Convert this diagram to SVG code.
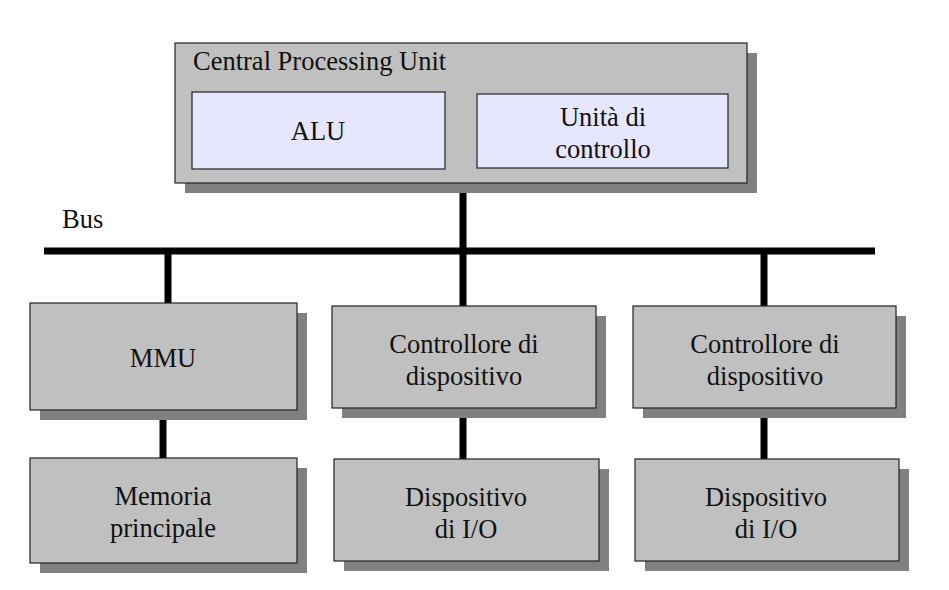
<svg xmlns="http://www.w3.org/2000/svg" width="949" height="590" viewBox="0 0 949 590">
<style>
.sh{fill:#808080}
.bx{fill:#c0c0c0;stroke:#222;stroke-width:1.2}
.in{fill:#e6e6ff;stroke:#222;stroke-width:1.2}
.t{font-family:"Liberation Serif","Times New Roman",serif;font-size:26.5px;fill:#111;text-anchor:middle}
.c{stroke:#000;stroke-width:7;fill:none}
</style>
<rect width="949" height="590" fill="#fff"/>
<g id="connectors">
<line class="c" x1="44" y1="251" x2="875" y2="251"/>
<line class="c" x1="463" y1="183" x2="463" y2="306"/>
<line class="c" x1="168" y1="251" x2="168" y2="303"/>
<line class="c" x1="764" y1="251" x2="764" y2="306"/>
<line class="c" x1="163" y1="410" x2="163" y2="458"/>
<line class="c" x1="463" y1="408" x2="463" y2="459"/>
<line class="c" x1="764" y1="408" x2="764" y2="459"/>
</g>
<text id="bus-label" x="62" y="228" class="t" style="text-anchor:start">Bus</text>
<g id="cpu">
<rect class="sh" x="185" y="53" width="572" height="140"/>
<rect class="bx" x="175" y="43" width="572" height="140"/>
<text x="193" y="70" class="t" style="text-anchor:start">Central Processing Unit</text>
</g>
<g id="alu">
<rect class="in" x="192" y="92" width="253" height="77"/>
<text x="318" y="140" class="t">ALU</text>
</g>
<g id="cu">
<rect class="in" x="477" y="94" width="251" height="74"/>
<text x="603" y="126" class="t">Unità di</text>
<text x="603" y="158" class="t">controllo</text>
</g>
<g id="mmu">
<rect class="sh" x="40" y="313" width="267" height="107"/>
<rect class="bx" x="30" y="303" width="267" height="107"/>
<text x="163" y="367" class="t">MMU</text>
</g>
<g id="memoria">
<rect class="sh" x="40" y="468" width="267" height="105"/>
<rect class="bx" x="30" y="458" width="267" height="105"/>
<text x="163" y="505" class="t">Memoria</text>
<text x="163" y="537" class="t">principale</text>
</g>
<g id="ctrl1">
<rect class="sh" x="342" y="316" width="264" height="102"/>
<rect class="bx" x="332" y="306" width="264" height="102"/>
<text x="464" y="353" class="t">Controllore di</text>
<text x="464" y="385" class="t">dispositivo</text>
</g>
<g id="dev1">
<rect class="sh" x="344" y="469" width="265" height="102"/>
<rect class="bx" x="334" y="459" width="265" height="102"/>
<text x="466" y="506" class="t">Dispositivo</text>
<text x="466" y="538" class="t">di I/O</text>
</g>
<g id="ctrl2">
<rect class="sh" x="643" y="316" width="263" height="102"/>
<rect class="bx" x="633" y="306" width="263" height="102"/>
<text x="765" y="353" class="t">Controllore di</text>
<text x="765" y="385" class="t">dispositivo</text>
</g>
<g id="dev2">
<rect class="sh" x="645" y="469" width="264" height="102"/>
<rect class="bx" x="635" y="459" width="264" height="102"/>
<text x="766" y="506" class="t">Dispositivo</text>
<text x="766" y="538" class="t">di I/O</text>
</g>
</svg>
